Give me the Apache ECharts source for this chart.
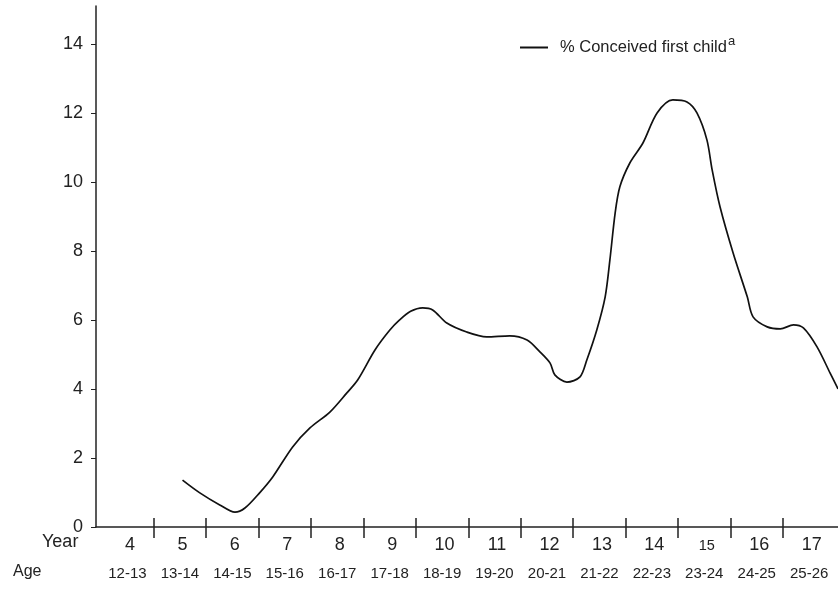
<!DOCTYPE html>
<html>
<head>
<meta charset="utf-8">
<script src="https://cdn.jsdelivr.net/npm/echarts@6/dist/echarts.min.js"></script>
<style>html,body{margin:0;padding:0;background:#fff}#c{width:838px;height:590px}</style>
</head>
<body>
<div id="c"></div>
<script>
const years = ['4','5','6','7','8','9','10','11','12','13','14','15','16','17'];
const ages = ['12-13','13-14','14-15','15-16','16-17','17-18','18-19','19-20','20-21','21-22','22-23','23-24','24-25','25-26'];
const yearCenters = [4,5,6,7,8,9,10,11,12,13,14,15,16,17];
const yearBounds = [4.5,5.5,6.5,7.5,8.5,9.5,10.5,11.5,12.5,13.5,14.5,15.5,16.5];
const yTicks = [0,2,4,6,8,10,12,14];
const seriesName = '% Conceived first child';
const curveX = [5.05,5.38,5.76,6.05,6.24,6.52,6.77,7.15,7.48,7.86,8.18,8.39,8.72,9.0,9.19,9.4,9.63,9.82,10.09,10.47,10.85,11.29,11.62,11.87,12.06,12.15,12.38,12.63,12.76,12.95,13.11,13.2,13.3,13.39,13.58,13.83,14.1,14.4,14.67,14.86,15.05,15.15,15.3,15.55,15.82,15.93,16.2,16.45,16.7,16.89,17.15,17.4,17.55];
const curveY = [1.36,0.99,0.64,0.43,0.55,0.99,1.45,2.32,2.87,3.33,3.88,4.26,5.13,5.7,6.0,6.25,6.35,6.29,5.91,5.65,5.51,5.54,5.42,5.07,4.75,4.41,4.2,4.35,4.84,5.71,6.67,7.74,9.1,9.86,10.55,11.13,12.0,12.38,12.32,12.0,11.22,10.35,9.28,7.94,6.67,6.09,5.8,5.74,5.86,5.77,5.22,4.46,4.0];

const chart = echarts.init(document.getElementById('c'));
const TXT = '#222';
const FONT = 'Liberation Sans, Arial, sans-serif';
chart.setOption({
  animation: false,
  backgroundColor: '#fff',
  textStyle: {fontFamily: FONT},
  title: [
    {text: 'Year', left: 42, top: 533, padding: 0, textStyle: {fontSize: 18, fontWeight: 'normal', color: TXT, fontFamily: FONT}},
    {text: 'Age', left: 13, top: 564, padding: 0, textStyle: {fontSize: 16, fontWeight: 'normal', color: TXT, fontFamily: FONT}}
  ],
  legend: {
    left: 520, top: 35, padding: 0,
    data: [{name: seriesName, icon: 'rect'}],
    itemWidth: 28, itemHeight: 2,
    formatter: n => n + '{sup|a}',
    textStyle: {
      fontSize: 16.5, color: TXT, fontFamily: FONT, padding: [0,0,0,7],
      rich: {sup: {fontSize: 13, verticalAlign: 'top', padding: [0,0,12,1], color: TXT}}
    }
  },
  grid: {left: 96, right: 0, top: 6, bottom: 63, containLabel: false},
  xAxis: [
    {
      type: 'value', min: 3.4, max: 17.55, position: 'bottom',
      axisLine: {onZero: false, lineStyle: {color: '#222', width: 1.5}},
      splitLine: {show: false},
      axisTick: {show: true, inside: false, length: 11, customValues: yearBounds, lineStyle: {color: '#222', width: 1.5}},
      axisLabel: {
        customValues: yearCenters, margin: 7,
        formatter: v => {
          const i = yearCenters.indexOf(v);
          if (i < 0) return '';
          const yl = years[i] === '15' ? '{s|' + years[i] + '}' : '{y|' + years[i] + '}';
          return yl + '\n{a|' + ages[i] + '}';
        },
        rich: {
          y: {fontSize: 18, lineHeight: 23, color: TXT, fontFamily: FONT, padding: [0,0,0,5]},
          s: {fontSize: 14.5, lineHeight: 23, color: TXT, fontFamily: FONT, padding: [0,0,0,5]},
          a: {fontSize: 15, lineHeight: 34, color: TXT, fontFamily: FONT}
        }
      }
    },
    {
      type: 'value', min: 3.4, max: 17.55, position: 'bottom',
      axisLine: {show: false, onZero: false},
      splitLine: {show: false},
      axisTick: {show: true, inside: true, length: 9, customValues: yearBounds, lineStyle: {color: '#222', width: 1.5}},
      axisLabel: {show: false}
    }
  ],
  yAxis: {
    type: 'value', min: 0, max: 15.1,
    axisLine: {show: true, lineStyle: {color: '#222', width: 1.5}},
    splitLine: {show: false},
    axisTick: {show: true, length: 5, customValues: yTicks, lineStyle: {color: '#222', width: 1}},
    axisLabel: {customValues: yTicks, margin: 13, fontSize: 18, color: TXT, fontFamily: FONT}
  },
  series: [{
    name: seriesName, type: 'line', xAxisIndex: 0,
    data: curveX.map((x, i) => [x, curveY[i]]),
    smooth: 0.3, showSymbol: false, symbol: 'none',
    lineStyle: {color: '#111', width: 1.7},
    itemStyle: {color: '#111'}
  }]
});
</script>
</body>
</html>
